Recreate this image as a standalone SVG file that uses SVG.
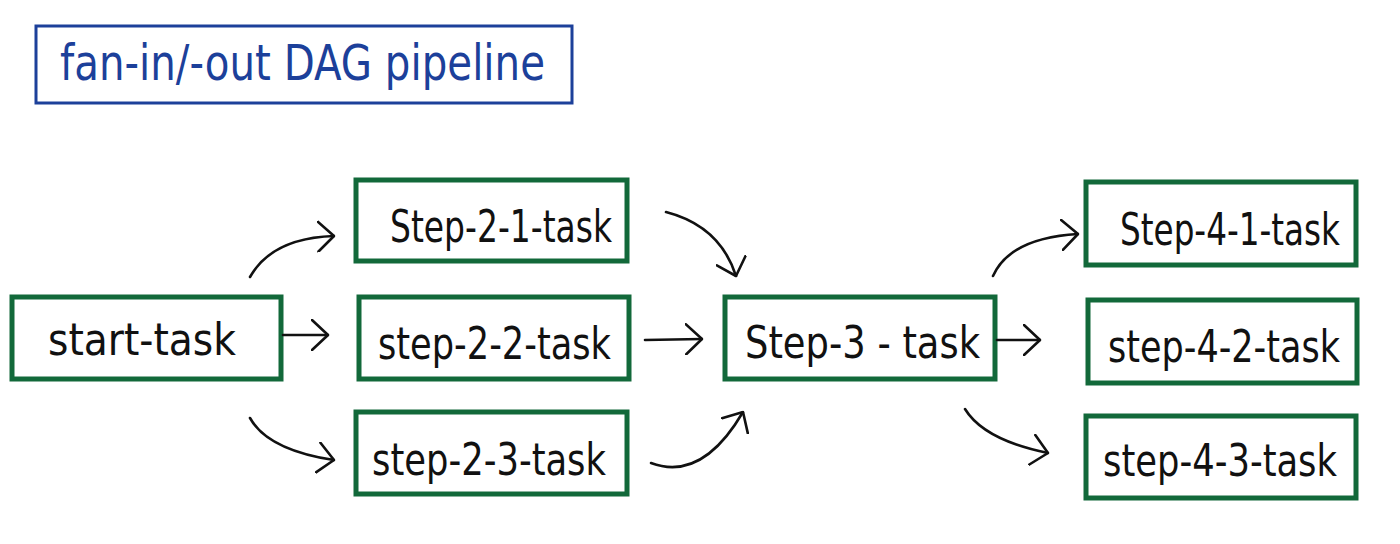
<svg xmlns="http://www.w3.org/2000/svg" width="1400" height="544" viewBox="0 0 1400 544">
<style>
.node rect{fill:#fff;stroke:#12693a;stroke-width:5}
.node text{font-family:"Liberation Sans Narrow","DejaVu Sans Condensed","Liberation Sans",sans-serif;font-size:44px;fill:#111;dominant-baseline:central}
.title rect{fill:#fff;stroke:#1c409a;stroke-width:3}
.title text{font-family:"Liberation Sans Narrow","DejaVu Sans Condensed","Liberation Sans",sans-serif;font-size:50px;fill:#1c409a;dominant-baseline:central}
.edge{fill:none;stroke:#111;stroke-width:2.6;stroke-linecap:round;marker-end:url(#arr)}
</style>
<defs>
<marker id="arr" viewBox="0 0 18 32" refX="17" refY="16" markerWidth="18" markerHeight="32" markerUnits="userSpaceOnUse" orient="auto">
<path d="M1,1 L17,16 L1,31" fill="none" stroke="#111" stroke-width="2.6" stroke-linecap="round" stroke-linejoin="round"/>
</marker>
</defs>
<rect width="1400" height="544" fill="#fff"/>
<g id="title" class="title">
<rect x="36" y="26" width="536" height="77"/>
<text x="60" y="63" textLength="485" lengthAdjust="spacingAndGlyphs">fan-in/-out DAG pipeline</text>
</g>
<g id="start-task" class="node">
<rect x="12" y="297" width="269" height="82"/>
<text x="48" y="339" textLength="188" lengthAdjust="spacingAndGlyphs">start-task</text>
</g>
<g id="step-2-1-task" class="node">
<rect x="356" y="180" width="271" height="81"/>
<text x="390" y="226" textLength="222" lengthAdjust="spacingAndGlyphs">Step-2-1-task</text>
</g>
<g id="step-2-2-task" class="node">
<rect x="359" y="297" width="270" height="82"/>
<text x="378" y="343" textLength="233" lengthAdjust="spacingAndGlyphs">step-2-2-task</text>
</g>
<g id="step-2-3-task" class="node">
<rect x="356" y="412" width="271" height="82"/>
<text x="372" y="459" textLength="234" lengthAdjust="spacingAndGlyphs">step-2-3-task</text>
</g>
<g id="step-3-task" class="node">
<rect x="725" y="297" width="270" height="82"/>
<text x="745" y="342" textLength="235" lengthAdjust="spacingAndGlyphs">Step-3 - task</text>
</g>
<g id="step-4-1-task" class="node">
<rect x="1086" y="182" width="270" height="83"/>
<text x="1120" y="229" textLength="220" lengthAdjust="spacingAndGlyphs">Step-4-1-task</text>
</g>
<g id="step-4-2-task" class="node">
<rect x="1088" y="300" width="269" height="83"/>
<text x="1108" y="346" textLength="232" lengthAdjust="spacingAndGlyphs">step-4-2-task</text>
</g>
<g id="step-4-3-task" class="node">
<rect x="1086" y="416" width="270" height="82"/>
<text x="1103" y="460" textLength="234" lengthAdjust="spacingAndGlyphs">step-4-3-task</text>
</g>
<g id="connectors">
<path class="edge" d="M250,277 Q272,238 334,236"/>
<path class="edge" d="M283,335 L328,335"/>
<path class="edge" d="M250,418 Q268,450 334,460"/>
<path class="edge" d="M666,212 Q720,226 736,276"/>
<path class="edge" d="M645,340 L702,339"/>
<path class="edge" d="M651,463 Q702,482 743,412"/>
<path class="edge" d="M993,276 Q1010,238 1078,234"/>
<path class="edge" d="M997,340 L1040,340"/>
<path class="edge" d="M965,409 Q984,440 1048,453"/>
</g>
</svg>
